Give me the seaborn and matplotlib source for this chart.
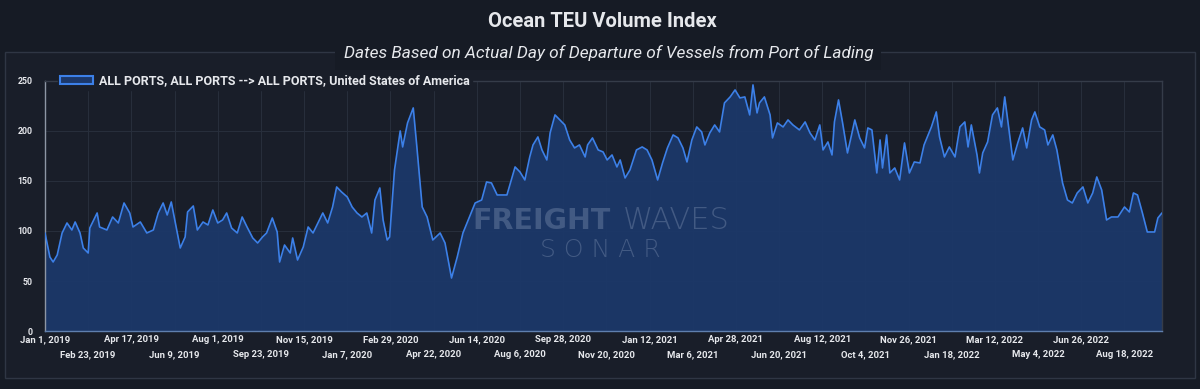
import numpy as np
import pandas as pd
import matplotlib
matplotlib.use('Agg')
import matplotlib.pyplot as plt
import seaborn as sns
from matplotlib.patches import Patch, Rectangle

# days since Jan 1, 2019 and index value
days = [0, 6, 10, 15, 21, 27, 33, 37, 43, 47, 53, 55, 64, 67, 76, 83, 90, 97, 104, 108,
        117, 125, 133, 139, 145, 150, 155, 160, 166, 172, 175, 182, 187, 194, 200, 206, 212,
        218, 223, 229, 236, 242, 248, 255, 261, 267, 272, 279, 285, 288, 294, 301, 304, 310,
        317, 323, 329, 335, 341, 347, 353, 358, 364, 371, 377, 383, 389, 395, 401, 405, 411,
        415, 420, 423, 429, 436, 439, 445, 452, 456, 463, 469, 476, 485, 491, 499, 506, 513,
        521, 528, 536, 542, 548, 555, 567, 577, 583, 589, 595, 599, 605, 610, 616, 620, 626,
        632, 638, 644, 650, 656, 663, 666, 672, 679, 685, 690, 696, 702, 706, 712, 718, 726,
        733, 739, 745, 752, 758, 764, 771, 777, 783, 788, 794, 800, 806, 810, 816, 822, 828,
        834, 841, 847, 853, 859, 865, 869, 874, 877, 883, 890, 893, 899, 906, 912, 918, 926,
        933, 939, 945, 951, 955, 961, 966, 969, 974, 979, 985, 990, 994, 1000, 1006, 1010,
        1015, 1021, 1025, 1028, 1033, 1037, 1043, 1049, 1055, 1061, 1067, 1074, 1079, 1083,
        1088, 1094, 1098, 1104, 1110, 1117, 1123, 1129, 1133, 1137, 1144, 1147, 1151, 1157,
        1163, 1169, 1174, 1178, 1182, 1188, 1194, 1200, 1205, 1211, 1215, 1221, 1227, 1231,
        1237, 1242, 1249, 1255, 1261, 1267, 1274, 1280, 1286, 1291, 1297, 1303, 1309, 1317,
        1325, 1331, 1336, 1341, 1347, 1353, 1362, 1366, 1371]
teu = [98, 74, 69, 76, 98, 108, 101, 109, 98, 83, 78, 103, 118, 104, 101, 114, 108, 128, 118, 104,
       109, 98, 101, 118, 128, 116, 129, 108, 83, 94, 119, 125, 101, 109, 106, 121, 108,
       111, 118, 103, 98, 114, 104, 93, 88, 94, 98, 113, 99, 69, 86, 78, 93, 71,
       84, 104, 98, 108, 118, 108, 124, 144, 139, 134, 124, 118, 114, 118, 98, 131, 143,
       111, 91, 94, 161, 200, 184, 208, 223, 188, 124, 114, 91, 98, 88, 53, 74, 98,
       114, 128, 131, 149, 148, 136, 136, 164, 159, 151, 174, 186, 194, 181, 171, 198, 216,
       211, 206, 191, 183, 186, 174, 186, 193, 181, 179, 171, 176, 164, 171, 153, 161, 181,
       184, 181, 171, 151, 168, 183, 196, 193, 183, 169, 191, 204, 199, 186, 198, 206, 199,
       228, 234, 241, 233, 234, 216, 246, 218, 228, 234, 216, 193, 208, 204, 211, 206, 201,
       209, 198, 191, 206, 181, 189, 176, 209, 231, 208, 178, 196, 211, 193, 183, 203,
       201, 158, 191, 163, 196, 158, 163, 151, 188, 158, 169, 168, 186, 194,
       204, 219, 194, 174, 184, 174, 204, 209, 184, 206, 176, 158, 178, 189,
       216, 223, 204, 234, 209, 171, 188, 203, 183, 211, 219, 204, 201, 186,
       196, 181, 148, 131, 128, 138, 144, 128, 138, 154, 141, 111, 114, 114,
       124, 119, 138, 136, 118, 99, 99, 113, 118]

tick_labels = ['Jan 1, 2019', 'Feb 23, 2019', 'Apr 17, 2019', 'Jun 9, 2019', 'Aug 1, 2019',
               'Sep 23, 2019', 'Nov 15, 2019', 'Jan 7, 2020', 'Feb 29, 2020', 'Apr 22, 2020',
               'Jun 14, 2020', 'Aug 6, 2020', 'Sep 28, 2020', 'Nov 20, 2020', 'Jan 12, 2021',
               'Mar 6, 2021', 'Apr 28, 2021', 'Jun 20, 2021', 'Aug 12, 2021', 'Oct 4, 2021',
               'Nov 26, 2021', 'Jan 18, 2022', 'Mar 12, 2022', 'May 4, 2022', 'Jun 26, 2022',
               'Aug 18, 2022']
y_ticks = [0, 50, 100, 150, 200, 250]

series_name = 'ALL PORTS, ALL PORTS --> ALL PORTS, United States of America'

BG = '#161b25'
PANEL = '#191e29'
FILL = '#1c386a'
LINE = '#3c80e8'
TXT = '#e6e8ec'
GRID = '#272e3b'
WM = '#8395b5'

dates = pd.Timestamp('2019-01-01') + pd.to_timedelta(days, unit='D')
df = pd.DataFrame({'date': dates, 'teu': teu})
tick_dates = pd.to_datetime(tick_labels, format='%b %d, %Y')

sns.set_theme(style='dark')
plt.rcParams['font.family'] = ['Roboto', 'DejaVu Sans']

fig = plt.figure(figsize=(12, 3.89), dpi=100)
fig.patch.set_facecolor(BG)

# outer panel frame
fig.add_artist(Rectangle((0.004, 0.028), 0.992, 0.838, transform=fig.transFigure,
                         facecolor=PANEL, edgecolor='#2f3644', lw=1.0, zorder=-5))

ax = fig.add_axes([0.0375, 0.149, 0.9308, 0.643])
ax.set_facecolor(PANEL)

ax.fill_between(df['date'], 0, df['teu'], color=FILL, alpha=0.93, lw=0, zorder=2)
sns.lineplot(data=df, x='date', y='teu', ax=ax, color=LINE, lw=1.2, zorder=3)

ax.set_xlim(df['date'].iloc[0], df['date'].iloc[-1])
ax.set_ylim(0, 250)

ax.set_xticks(tick_dates[::2])
ax.set_xticklabels(tick_labels[::2])
ax.set_xticks(tick_dates[1::2], minor=True)
ax.set_xticklabels(tick_labels[1::2], minor=True)
ax.set_yticks(y_ticks)
ax.set_yticklabels([str(v) for v in y_ticks])

ax.tick_params(axis='x', which='major', length=0, pad=3, labelsize=6.8, labelcolor=TXT)
ax.tick_params(axis='x', which='minor', length=0, pad=14, labelsize=6.8, labelcolor=TXT)
ax.tick_params(axis='y', length=0, pad=9, labelsize=6.3, labelcolor=TXT)
for lab in ax.get_xticklabels(which='both') + ax.get_yticklabels():
    lab.set_fontweight('bold')

ax.grid(True, which='both', color=GRID, lw=0.8, zorder=0)
ax.set_axisbelow(True)
ax.set_xlabel('')
ax.set_ylabel('')

ax.spines['left'].set_color('#8d96a4')
ax.spines['bottom'].set_color('#5f7fae')
ax.spines['top'].set_color('#353c49')
ax.spines['right'].set_color('#353c49')
for s in ax.spines.values():
    s.set_visible(True)
    s.set_linewidth(1.0)

# legend sits on the top gridline
handle = Patch(facecolor=FILL, edgecolor=LINE, lw=1.5)
leg = fig.legend([handle], [series_name], loc='center left',
                 bbox_to_anchor=(0.043, 0.792), frameon=True, facecolor=PANEL,
                 edgecolor=PANEL, framealpha=1, handlelength=2.6, handleheight=0.5,
                 borderpad=0.2, handletextpad=0.5,
                 prop={'family': 'Roboto', 'weight': 'bold', 'size': 9})
for t in leg.get_texts():
    t.set_color(TXT)

# watermark
fig.text(0.394, 0.433, 'FREIGHT', color=WM, alpha=0.38, fontsize=20.5,
         fontweight='bold', family='DejaVu Sans', ha='left', va='center', zorder=10)
fig.text(0.519, 0.433, 'WAVES', color=WM, alpha=0.38, fontsize=22,
         fontweight='light', family='DejaVu Sans', ha='left', va='center', zorder=10)
fig.text(0.5, 0.357, 'S O N A R', color=WM, alpha=0.38, fontsize=18,
         fontweight='light', family='DejaVu Sans', ha='center', va='center', zorder=10)

fig.text(0.502, 0.945, 'Ocean TEU Volume Index', color=TXT, fontsize=14.5,
         fontweight='bold', family='Roboto', ha='center', va='center')
fig.text(0.507, 0.863, 'Dates Based on Actual Day of Departure of Vessels from Port of Lading',
         color=TXT, fontsize=12.4, style='italic', family='Roboto', ha='center', va='center',
         bbox=dict(facecolor=BG, edgecolor='none', pad=6))

fig.savefig('out.png', dpi=100, facecolor=BG)
